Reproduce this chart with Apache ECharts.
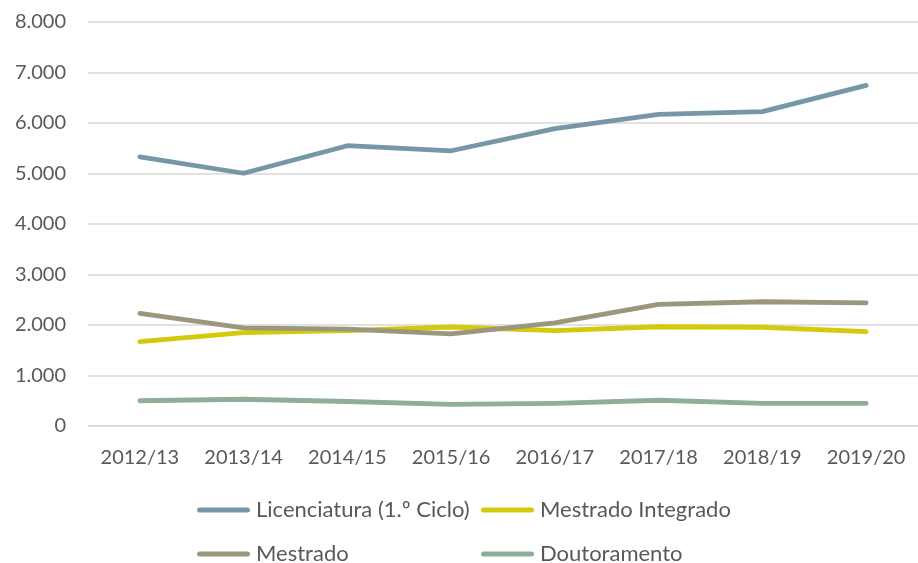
<!DOCTYPE html>
<html>
<head>
<meta charset="utf-8">
<script src="https://cdn.jsdelivr.net/npm/echarts@6/dist/echarts.min.js"></script>
<style>html,body{margin:0;padding:0;background:#fff}#c{width:918px;height:563px}</style>
</head>
<body>
<div id="c"></div>
<script>
var categories = ['2012/13','2013/14','2014/15','2015/16','2016/17','2017/18','2018/19','2019/20'];
var licenciatura = [5330, 5005, 5550, 5450, 5890, 6170, 6225, 6745];
var mestradoIntegrado = [1670, 1850, 1890, 1960, 1890, 1965, 1955, 1870];
var mestrado = [2230, 1945, 1920, 1825, 2040, 2410, 2460, 2440];
var doutoramento = [500, 530, 485, 430, 450, 510, 450, 450];
var seriesNames = ['Licenciatura (1.º Ciclo)', 'Mestrado Integrado', 'Mestrado', 'Doutoramento'];
var colors = ['#7698A6', '#D4C90A', '#9B977E', '#8FAD97'];

var font = 'Lato, "Open Sans", sans-serif';
function mk(name, data, color) {
  return {
    name: name, type: 'line', data: data, symbol: 'none', smooth: false,
    lineStyle: { color: color, width: 4.8, cap: 'round', join: 'round' },
    itemStyle: { color: color },
    emphasis: { disabled: true }
  };
}
var legendIcon = 'path://M2.5,0 L50.5,0 A2.5,2.5 0 0 1 50.5,5 L2.5,5 A2.5,2.5 0 0 1 2.5,0 Z';
function lg(name, left, top) {
  return {
    data: [{ name: name, icon: legendIcon }], left: left, top: top,
    itemWidth: 53, itemHeight: 5, itemGap: 0, padding: 0,
    textStyle: { color: '#595959', fontFamily: font, fontSize: 22, padding: [0, 0, 0, 1] }
  };
}
var chart = echarts.init(document.getElementById('c'));
chart.setOption({
  animation: false,
  grid: { left: 88, top: 22, width: 836, height: 404 },
  xAxis: {
    type: 'category', data: categories, boundaryGap: true,
    axisLine: { show: true, lineStyle: { color: '#d9d9d9', width: 1.5 } },
    axisTick: { show: false },
    axisLabel: { color: '#595959', fontFamily: font, fontSize: 20, margin: 22 }
  },
  yAxis: {
    type: 'value', min: 0, max: 8000, interval: 1000,
    axisLine: { show: false }, axisTick: { show: false },
    splitLine: { lineStyle: { color: '#d9d9d9', width: 1.5 } },
    axisLabel: {
      color: '#595959', fontFamily: font, fontSize: 20, margin: 22,
      formatter: function (v) { return String(v).replace(/\B(?=(\d{3})+(?!\d))/g, '.'); }
    }
  },
  legend: [
    lg(seriesNames[0], 197, 499),
    lg(seriesNames[1], 481, 499),
    lg(seriesNames[2], 197, 543),
    lg(seriesNames[3], 481, 543)
  ],
  series: [
    mk(seriesNames[0], licenciatura, colors[0]),
    mk(seriesNames[1], mestradoIntegrado, colors[1]),
    mk(seriesNames[2], mestrado, colors[2]),
    mk(seriesNames[3], doutoramento, colors[3])
  ]
});
</script>
</body>
</html>
